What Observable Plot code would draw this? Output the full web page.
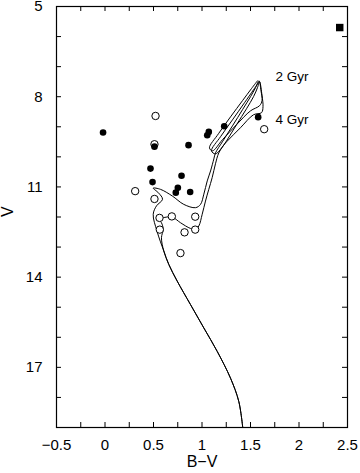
<!DOCTYPE html>
<html><head><meta charset="utf-8">
<script src="https://cdn.jsdelivr.net/npm/d3@7"></script>
<script src="https://cdn.jsdelivr.net/npm/@observablehq/plot@0.6"></script>
<style>
html,body{margin:0;padding:0;background:#fff;}
svg{font-family:"Liberation Sans",Arial,Helvetica,sans-serif;}
</style>
</head><body><div id="chart"></div>
<script>
// Shared lower main sequence (B-V, V)
const msBV = [1.42, 1.379, 1.294, 1.157, 1.019, 0.881, 0.744, 0.658, 0.606];
const msV  = [19.0, 18.13, 17.36, 16.47, 15.69, 14.91, 14.13, 13.58, 13.13];

// 2 Gyr isochrone above the split: turnoff, subgiant, RGB, tip, return, AGB
const iso2BV = [0.536, 0.497, 0.531, 0.593, 0.552, 0.497, 0.572, 0.693, 0.812, 0.933, 0.985, 1.019, 1.054, 1.088, 1.122, 1.139,
                1.21, 1.314, 1.418, 1.5, 1.552, 1.588,
                1.608, 1.619, 1.593,
                1.5, 1.356, 1.211, 1.108, 1.077,
                1.17, 1.294, 1.418, 1.51, 1.572];
const iso2V  = [12.47, 11.91, 11.63, 11.41, 11.2, 11.04, 11.08, 11.3, 11.58, 11.69, 11.58, 11.24, 10.8, 10.47, 10.07, 9.87,
                9.5, 8.97, 8.43, 8.0, 7.7, 7.47,
                7.8, 8.13, 8.3,
                8.47, 8.93, 9.43, 9.8, 9.7,
                9.23, 8.67, 8.13, 7.73, 7.47];

// 4 Gyr isochrone above the split
const iso4BV = [0.582, 0.6, 0.582, 0.555, 0.641, 0.693, 0.778, 0.881, 0.933, 0.967, 1.002, 1.036, 1.07, 1.105, 1.139, 1.173,
                1.253, 1.356, 1.459, 1.531, 1.572, 1.593,
                1.619, 1.629, 1.614,
                1.531, 1.397, 1.253, 1.139, 1.098,
                1.191, 1.314, 1.438, 1.531, 1.582];
const iso4V  = [12.69, 12.41, 12.19, 12.08, 12.0, 12.0, 12.19, 12.38, 12.41, 12.3, 11.91, 11.47, 11.08, 10.69, 10.23, 9.87,
                9.47, 8.93, 8.4, 8.0, 7.7, 7.5,
                7.97, 8.33, 8.53,
                8.6, 9.03, 9.5, 9.9, 9.8,
                9.33, 8.77, 8.2, 7.77, 7.53];

// Filled circles
const filledBV = [-0.02, 0.51, 0.861, 1.07, 1.054, 1.229, 1.579, 0.469, 0.789, 0.49, 0.751, 0.73, 0.878];
const filledV  = [9.19, 9.66, 9.61, 9.17, 9.28, 8.98, 8.68, 10.39, 10.63, 10.84, 11.03, 11.19, 11.17];

// Open circles
const openBV = [0.521, 0.51, 1.641, 0.311, 0.51, 0.562, 0.689, 0.93, 0.565, 0.82, 0.93, 0.778];
const openV  = [8.64, 9.58, 9.08, 11.14, 11.4, 12.03, 11.98, 11.99, 12.42, 12.51, 12.42, 13.2];

// Filled square
const squareBV = [2.42];
const squareV  = [5.7];

// Isochrone labels
const ageLabels = ["2 Gyr", "4 Gyr"];
const ageBV = [1.758, 1.758];
const ageV  = [7.33, 8.75];

// Axis ticks
const xTickLabels = [-0.5, 0, 0.5, 1, 1.5, 2, 2.5];
const xTicks = d3.range(-0.5, 2.5001, 0.25);
const yTickLabels = [5, 8, 11, 14, 17];
const yTicks = d3.range(5, 19.001, 1);

const W = 360, H = 473, mL = 56, mR = 13, mT = 6, mB = 46;
const plotW = W - mL - mR, plotH = H - mT - mB;

const isoRows = [];
function pushIso(age, bv, v) {
  msBV.forEach((b, i) => isoRows.push({age, bv: b, v: msV[i]}));
  bv.forEach((b, i) => isoRows.push({age, bv: b, v: v[i]}));
}
pushIso("2 Gyr", iso2BV, iso2V);
pushIso("4 Gyr", iso4BV, iso4V);

const filled = filledBV.map((b, i) => ({bv: b, v: filledV[i]}));
const open = openBV.map((b, i) => ({bv: b, v: openV[i]}));
const square = squareBV.map((b, i) => ({bv: b, v: squareV[i]}));
const labels = ageLabels.map((t, i) => ({t, bv: ageBV[i], v: ageV[i]}));

const fmt = d => d < 0 ? "\u2212" + Math.abs(d) : String(d);

const chart = Plot.plot({
  width: W, height: H,
  marginLeft: mL, marginRight: mR, marginTop: mT, marginBottom: mB,
  style: {fontFamily: '"Liberation Sans", Arial, Helvetica, sans-serif', background: "white", color: "black"},
  x: {domain: [-0.5, 2.5], axis: null},
  y: {domain: [5, 19], reverse: true, axis: null},
  marks: [
    Plot.line(isoRows, {x: "bv", y: "v", z: "age", stroke: "black", strokeWidth: 1, curve: "catmull-rom"}),
    Plot.dot(open, {x: "bv", y: "v", r: 3.7, fill: "white", stroke: "black", strokeWidth: 1}),
    Plot.dot(filled, {x: "bv", y: "v", r: 3.3, fill: "black", stroke: "none"}),
    Plot.dot(square, {x: "bv", y: "v", symbol: "square", r: 4.2, fill: "black", stroke: "none"}),
    Plot.text(labels, {x: "bv", y: "v", text: "t", textAnchor: "start", fontSize: 13.5, fill: "black"}),
    Plot.ruleX(xTicks, {insetTop: plotH - 5, stroke: "black"}),
    Plot.ruleX(xTicks, {insetBottom: plotH - 5, stroke: "black"}),
    Plot.ruleY(yTicks, {insetRight: plotW - 5, stroke: "black"}),
    Plot.ruleY(yTicks, {insetLeft: plotW - 5, stroke: "black"}),
    Plot.axisX(xTickLabels, {tickSize: 0, tickPadding: 12, tickFormat: fmt, fontSize: 15, label: null}),
    Plot.axisY(yTickLabels, {tickSize: 0, tickPadding: 14, tickFormat: fmt, fontSize: 15, label: null}),
    Plot.text(["B\u2212V"], {frameAnchor: "bottom", dy: 39, fontSize: 16, fill: "black"}),
    Plot.text(["V"], {frameAnchor: "left", dx: -49, rotate: -90, fontSize: 16, fill: "black"}),
    Plot.frame({stroke: "black", strokeWidth: 1.2})
  ]
});
document.getElementById("chart").appendChild(chart);
</script>
</body></html>
